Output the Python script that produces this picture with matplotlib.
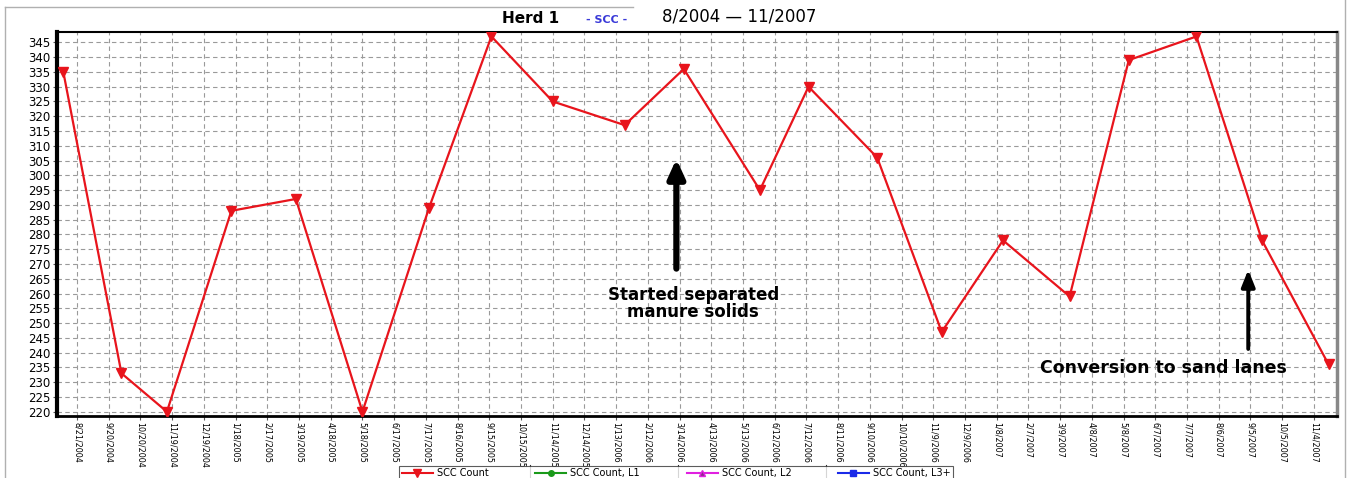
#!/usr/bin/env python3
"""Herd 1 SCC count over time, 8/2004 - 11/2007."""

import matplotlib
matplotlib.use("Agg")
import matplotlib.pyplot as plt
from matplotlib.lines import Line2D
import pandas as pd

# sample dates and SCC counts
test_dates = ["8/8/2004", "10/2/2004", "11/14/2004", "1/14/2005", "3/16/2005",
              "5/18/2005", "7/20/2005", "9/17/2005", "11/14/2005", "1/21/2006",
              "3/18/2006", "5/29/2006", "7/14/2006", "9/17/2006", "11/17/2006",
              "1/14/2007", "3/18/2007", "5/13/2007", "7/16/2007", "9/16/2007",
              "11/18/2007"]
scc_count = [335, 233, 220, 288, 292, 220, 289, 347, 325, 317, 336, 295, 330,
             306, 247, 278, 259, 339, 347, 278, 236]

tick_labels = ["8/21/2004", "9/20/2004", "10/20/2004", "11/19/2004", "12/19/2004",
               "1/18/2005", "2/17/2005", "3/19/2005", "4/18/2005", "5/18/2005",
               "6/17/2005", "7/17/2005", "8/16/2005", "9/15/2005", "10/15/2005",
               "11/14/2005", "12/14/2005", "1/13/2006", "2/12/2006", "3/14/2006",
               "4/13/2006", "5/13/2006", "6/12/2006", "7/12/2006", "8/11/2006",
               "9/10/2006", "10/10/2006", "11/9/2006", "12/9/2006", "1/8/2007",
               "2/7/2007", "3/9/2007", "4/8/2007", "5/8/2007", "6/7/2007",
               "7/7/2007", "8/6/2007", "9/5/2007", "10/5/2007", "11/4/2007"]
y_ticks = list(range(220, 350, 5))

legend_labels = ["SCC Count", "SCC Count, L1", "SCC Count, L2", "SCC Count, L3+"]

plt.rcParams["font.family"] = ["DejaVu Sans"]

W, H = 1347, 478
fig = plt.figure(figsize=(W / 100, H / 100), dpi=100)
ax = fig.add_axes([0.0423, 0.130, 0.9503, 0.803])

x = pd.to_datetime(test_dates, format="%m/%d/%Y")
ax.plot(x, scc_count, color="#e8141c", lw=1.6, marker="v", ms=7,
        markeredgecolor="#e8141c", zorder=3)

ax.set_xlim(pd.Timestamp("2004-08-02"), pd.Timestamp("2007-11-26"))
ax.set_ylim(218.6, 348.5)
ticks = pd.to_datetime(tick_labels, format="%m/%d/%Y")
ax.set_xticks(ticks)
ax.set_xticklabels(tick_labels, rotation=-90, fontsize=5.8,
                   family=["Liberation Sans Narrow", "DejaVu Sans"])
ax.set_yticks(y_ticks)
ax.set_yticklabels([str(v) for v in y_ticks], fontsize=8.5)
ax.tick_params(axis="both", length=3, width=0.8, pad=2, color="#555555")
ax.tick_params(axis="x", pad=1.5)

ax.grid(True, color="#9a9a9a", ls=(0, (4, 3)), lw=0.8)
ax.set_axisbelow(True)
ax.spines["left"].set_linewidth(3)
ax.spines["bottom"].set_linewidth(2)
ax.spines["top"].set_linewidth(1.5)
ax.spines["right"].set_color("#888888")
ax.spines["right"].set_linewidth(2.5)

# title pieces
fig.text(0.394, 0.962, "Herd 1", ha="center", va="center", fontsize=11,
         fontweight="bold")
fig.text(0.450, 0.958, "- SCC -", ha="center", va="center", fontsize=8,
         fontweight="bold", color="#3a3ad8")
fig.text(0.549, 0.965, "8/2004 \u2014 11/2007", ha="center", va="center",
         fontsize=12)

# annotations
ax.annotate("", xy=(pd.Timestamp("2006-03-11"), 306.5),
            xytext=(pd.Timestamp("2006-03-11"), 267.5),
            arrowprops=dict(arrowstyle="-|>,head_width=0.25,head_length=0.55",
                            lw=4.5, color="black", mutation_scale=20))
ax.text(pd.Timestamp("2006-03-27"), 256.7, "Started separated\nmanure solids",
        ha="center", va="center", fontsize=12, fontweight="bold",
        linespacing=0.9)
ax.annotate("", xy=(pd.Timestamp("2007-09-03"), 269.0),
            xytext=(pd.Timestamp("2007-09-03"), 240.3),
            arrowprops=dict(arrowstyle="-|>,head_width=0.2,head_length=0.5",
                            lw=2.8, color="black", mutation_scale=20))
ax.text(pd.Timestamp("2007-06-15"), 234.8, "Conversion to sand lanes",
        ha="center", va="center", fontsize=12.5, fontweight="bold")

# legend (sits on the bottom edge like the original)
handles = [
    Line2D([], [], color="#e8141c", marker="v", ms=6, lw=1.5),
    Line2D([], [], color="#1a9a1a", marker="o", ms=4, lw=1.5),
    Line2D([], [], color="#e020e0", marker="^", ms=5, lw=1.5,
           markerfacecolor="#8a2a8a"),
    Line2D([], [], color="#1a2ae8", marker="s", ms=5, lw=1.5),
]
leg = fig.legend(handles, legend_labels, ncol=4, loc="upper center",
                 bbox_to_anchor=(0.502, 1 - 461 / H), fontsize=7, frameon=True,
                 fancybox=False, edgecolor="#333333", borderpad=0.25,
                 columnspacing=4.8, handlelength=3.2, handletextpad=0.4)
leg.get_frame().set_linewidth(0.8)
for px in (530, 678, 826):
    fig.add_artist(Line2D([px / W, px / W], [0, 1 - 465 / H], color="#333333",
                          lw=0.8))

# screenshot frame lines
fig.add_artist(Line2D([0.004, 0.47], [0.985, 0.985], color="#b0b0b0", lw=1))
fig.add_artist(Line2D([0.004, 0.004], [0.0, 0.985], color="#b0b0b0", lw=1))
fig.add_artist(Line2D([0.9985, 0.9985], [0.0, 1.0], color="#b0b0b0", lw=1))

fig.savefig("out.png", dpi=100)
